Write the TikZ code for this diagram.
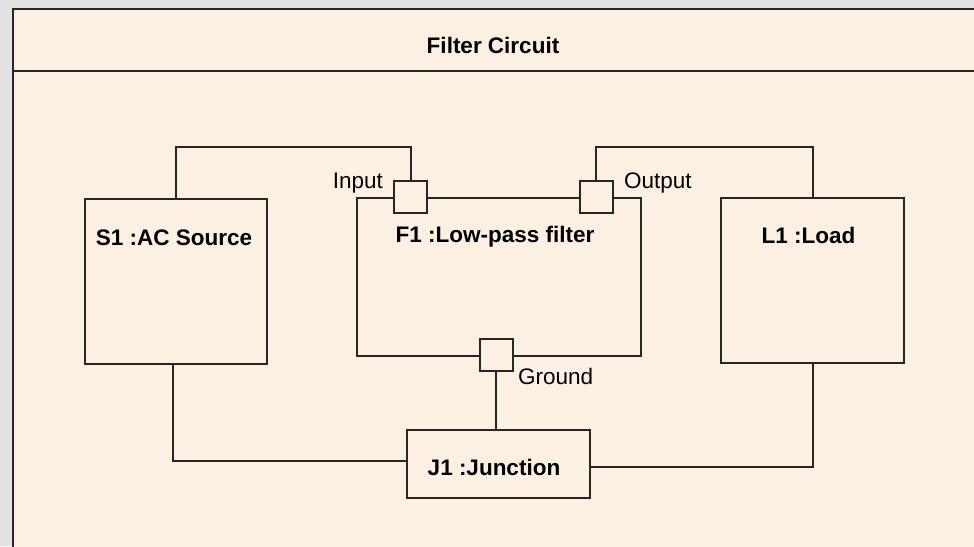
\documentclass[tikz,border=0pt]{standalone}
\usepackage{fontspec}
\setmainfont{Liberation Sans}
\definecolor{bgcream}{HTML}{FBF0E2}
\definecolor{outergray}{HTML}{E2E2E2}
\definecolor{linec}{HTML}{262626}
\begin{document}
\begin{tikzpicture}[x=1pt,y=-1pt,
  box/.style={draw=linec,line width=2pt,fill=bgcream,inner sep=0,anchor=north west},
  port/.style={draw=linec,line width=2pt,fill=bgcream,minimum width=33pt,minimum height=32pt,inner sep=0},
  wire/.style={draw=linec,line width=2pt},
  boxlabel/.style={font=\fontsize{22.5}{26}\selectfont\bfseries,inner sep=0,anchor=base},
  portlabel/.style={font=\fontsize{22.5}{26}\selectfont,inner sep=0}]
\path[fill=outergray] (0,0) rectangle (974,546);
\useasboundingbox (0,0) rectangle (974,546);
% frame
\draw[wire,fill=bgcream] (13,8.5) rectangle (990,560);
\draw[wire] (13,71) -- (990,71);
\node[boxlabel] (title) at (493,53) {Filter Circuit};
\coordinate (topy) at (0,147);
% boxes
\node[box,minimum width=182pt,minimum height=165pt] (S1) at (84,198) {};
\node[box,minimum width=284pt,minimum height=158pt] (F1) at (356,197) {};
\node[box,minimum width=183pt,minimum height=165pt] (L1) at (720,197) {};
\node[box,minimum width=183pt,minimum height=68pt] (J1) at (406,429) {};
% ports
\node[port] (inp) at (410.5,197) {};
\node[port] (outp) at (596,197) {};
\node[port] (gnd) at (496,355) {};
% labels
\node[boxlabel] (S1l) at (174,245) {S1 :AC Source};
\node[boxlabel] (F1l) at (495,242) {F1 :Low-pass filter};
\node[boxlabel] (L1l) at (808.5,243) {L1 :Load};
\node[boxlabel] (J1l) at (494,475) {J1 :Junction};
\node[portlabel,anchor=base east] (inl) at (383,188) {Input};
\node[portlabel,anchor=base west] (outl) at (624,188) {Output};
\node[portlabel,anchor=base west] (gndl) at (518,384) {Ground};
% connectors
\draw[wire] (S1.north) -- (S1.north |- topy) -| (inp.north);
\draw[wire] (outp.north) -- (outp.north |- topy) -| (L1.north);
\draw[wire] (gnd.south) -- (J1.north -| gnd.south);
\draw[wire] ([xshift=-3pt]S1.south) |- ([yshift=3pt]J1.west);
\draw[wire] ([yshift=-3pt]J1.east) -| (L1.south);
\end{tikzpicture}
\end{document}
